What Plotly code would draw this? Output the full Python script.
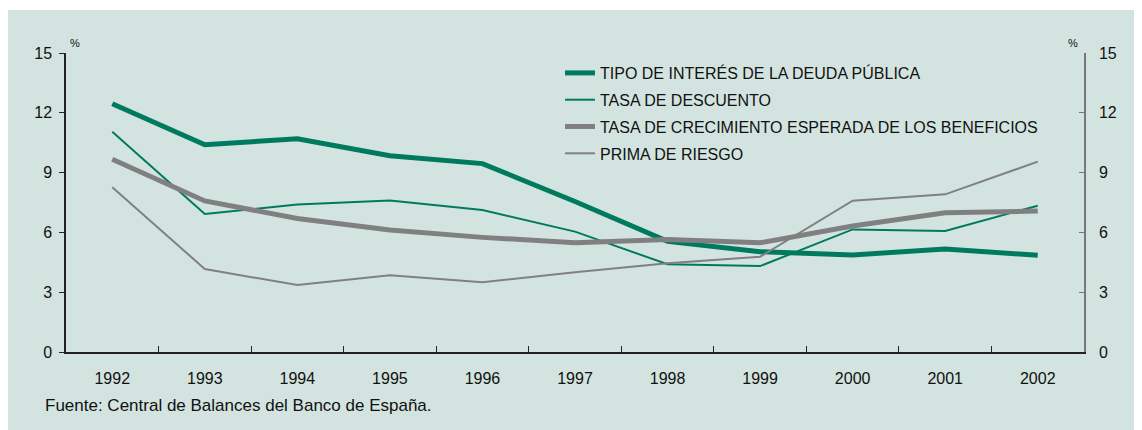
import plotly.graph_objects as go

years = ["1992", "1993", "1994", "1995", "1996", "1997", "1998", "1999", "2000", "2001", "2002"]
tipo_interes = [12.45, 10.4, 10.7, 9.85, 9.45, 7.55, 5.55, 5.03, 4.87, 5.17, 4.85]
tasa_descuento = [11.05, 6.92, 7.4, 7.6, 7.12, 6.04, 4.4, 4.31, 6.15, 6.07, 7.34]
tasa_crecimiento = [9.67, 7.58, 6.7, 6.12, 5.75, 5.48, 5.65, 5.48, 6.32, 6.99, 7.07]
prima_riesgo = [8.27, 4.16, 3.36, 3.85, 3.5, 4.0, 4.45, 4.78, 7.59, 7.91, 9.55]

names = [
    "TIPO DE INTERÉS DE LA DEUDA PÚBLICA",
    "TASA DE DESCUENTO",
    "TASA DE CRECIMIENTO ESPERADA DE LOS BENEFICIOS",
    "PRIMA DE RIESGO",
]
y_ticks = [0, 3, 6, 9, 12, 15]

GREEN = "#007A5E"
GRAY = "#808080"
BG = "#D3E4E0"
FONT = "Liberation Sans, Arial, sans-serif"


# helpers: convert reference-picture pixel positions to paper coordinates
def X(px):
    return (px - 66) / 1018


def Y(py):
    return (352 - py) / 299


series = [tipo_interes, tasa_descuento, tasa_crecimiento, prima_riesgo]
colors = [GREEN, GREEN, GRAY, GRAY]
widths = [5, 2, 5, 2]

fig = go.Figure()
for i, (vals, nm, c, w) in enumerate(zip(series, names, colors, widths)):
    fig.add_trace(go.Scatter(
        x=years, y=vals, mode="lines", name=nm,
        line=dict(color=c, width=w), legendgroup=f"g{i}",
    ))
# invisible trace to activate the right axis
fig.add_trace(go.Scatter(x=years, y=tipo_interes, yaxis="y2", mode="lines",
                         line=dict(width=0), showlegend=False, hoverinfo="skip", opacity=0))

# page body has an 8px margin: figure is 8px smaller so it fits the window exactly
fig.update_layout(
    width=1134, height=422,
    margin=dict(l=58, r=58, t=45, b=78),
    paper_bgcolor="white",
    plot_bgcolor="rgba(0,0,0,0)",
    font=dict(family=FONT, size=16, color="#111111"),
    showlegend=True,
    legend=dict(
        x=X(560), y=Y(56), xanchor="left", yanchor="top",
        bgcolor="rgba(0,0,0,0)", borderwidth=0,
        font=dict(size=16, family=FONT, color="#111111"),
        tracegroupgap=3,
    ),
    xaxis=dict(
        type="category", range=[-0.5, 10.5], tickson="boundaries",
        ticks="inside", ticklen=6, tickcolor="#222222",
        showline=True, linecolor="#222222", linewidth=1.5,
        showgrid=False, zeroline=False,
        tickfont=dict(size=16), ticklabelstandoff=11,
    ),
    yaxis=dict(
        range=[0, 15], tickvals=y_ticks, ticks="outside", ticklen=5,
        tickcolor="#222222", showline=True, linecolor="#222222", linewidth=1.5,
        showgrid=False, zeroline=False, tickfont=dict(size=16),
        ticklabelstandoff=4,
    ),
    yaxis2=dict(
        range=[0, 15], tickvals=y_ticks, overlaying="y", side="right",
        ticks="inside", ticklen=5, tickcolor="#777777",
        showline=True, linecolor="#777777", linewidth=1.5,
        showgrid=False, zeroline=False, tickfont=dict(size=16),
        ticklabelstandoff=10,
    ),
    shapes=[dict(
        type="rect", xref="paper", yref="paper", layer="below",
        x0=X(7), x1=1.2, y0=-0.4, y1=Y(10),
        fillcolor=BG, line=dict(width=0),
    )],
    annotations=[
        dict(text="%", xref="paper", yref="paper", x=X(75), y=Y(43),
             showarrow=False, font=dict(size=11), xanchor="center", yanchor="middle"),
        dict(text="%", xref="paper", yref="paper", x=X(1073), y=Y(43),
             showarrow=False, font=dict(size=11), xanchor="center", yanchor="middle"),
        dict(text="Fuente: Central de Balances del Banco de España.", xref="paper", yref="paper",
             x=X(43), y=Y(406), showarrow=False,
             font=dict(size=17), xanchor="left", yanchor="middle"),
    ],
)

fig.write_html("out.html")
